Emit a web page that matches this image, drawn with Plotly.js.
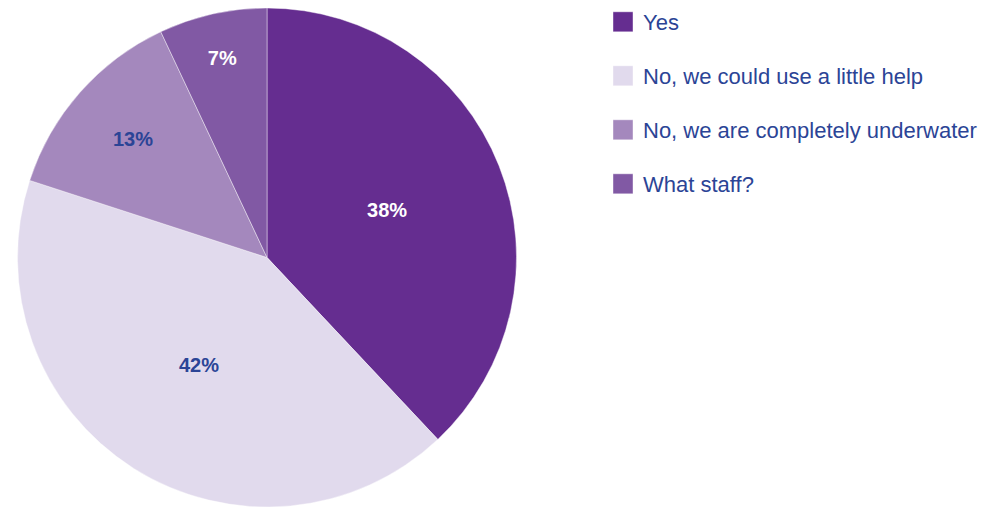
<!DOCTYPE html>
<html>
<head>
<meta charset="utf-8">
<script src="https://cdn.plot.ly/plotly-3.0.1.min.js"></script>
<style>html,body{margin:0;padding:0;background:#fff;}#chart{width:982px;height:507px;}</style>
</head>
<body>
<div id="chart"></div>
<script>
const categories = ["Yes", "No, we could use a little help", "No, we are completely underwater", "What staff?"];
const values = [38, 42, 13, 7];
const sliceColors = ["#652D90", "#E1DAED", "#A488BD", "#8159A4"];
const labelColors = ["#FFFFFF", "#2B4496", "#2B4496", "#FFFFFF"];

const W = 982, H = 507;
const LEGEND_STEP = 54;
const trace = {
  type: "pie",
  labels: categories,
  values: values,
  sort: false,
  direction: "clockwise",
  rotation: 0,
  marker: {colors: sliceColors, line: {color: "rgba(255,255,255,0.6)", width: 0.7}},
  texttemplate: "<b>%{value}%</b>",
  textposition: "inside",
  insidetextorientation: "horizontal",
  textfont: {family: "Liberation Sans, Arial, sans-serif", size: 20, color: labelColors},
  hoverinfo: "label+percent",
  domain: {x: [17 / W, 517 / W], y: [0, 1 - 8 / H]}
};
const layout = {
  width: W, height: H,
  margin: {l: 0, r: 0, t: 0, b: 0},
  paper_bgcolor: "#fff",
  showlegend: true,
  legend: {
    x: 603 / W, y: 1 - 1 / H, xanchor: "left", yanchor: "top",
    font: {family: "Liberation Sans, Arial, sans-serif", size: 22, color: "#2B4496"},
    bgcolor: "rgba(0,0,0,0)",
    traceorder: "normal"
  }
};
Plotly.newPlot("chart", [trace], layout, {displayModeBar: false, staticPlot: true}).then(gd => {
  // larger square legend swatches and wider row spacing, as in the reference
  gd.querySelectorAll(".legend .scrollbox").forEach(s => s.removeAttribute("clip-path"));
  const items = gd.querySelectorAll(".legend .traces");
  let y0 = null;
  items.forEach((g, i) => {
    const m = /translate\(([-\d.]+),\s*([-\d.]+)\)/.exec(g.getAttribute("transform") || "");
    const x = m ? parseFloat(m[1]) : 0;
    const y = m ? parseFloat(m[2]) : 0;
    if (y0 === null) y0 = y;
    g.setAttribute("transform", "translate(" + x + "," + (y0 + i * LEGEND_STEP) + ")");
    g.querySelectorAll(".legendpoints path").forEach(p => p.setAttribute("d", "M10,10H-10V-10H10Z"));
  });
});
</script>
</body>
</html>
